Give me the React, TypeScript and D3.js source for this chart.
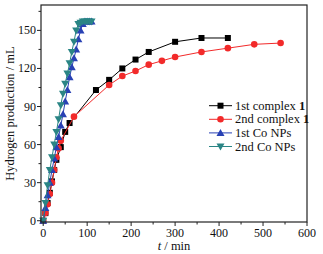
import React from "react";
import * as d3 from "d3";

const xTicks = [0, 100, 200, 300, 400, 500, 600];
const yTicks = [0, 30, 60, 90, 120, 150];

const c1Time = [0, 5, 10, 15, 20, 25, 30, 40, 50, 60, 120, 150, 180, 210, 240, 300, 360, 420];
const c1Vals = [0, 6, 14, 22, 31, 40, 48, 58, 70, 77, 103, 111, 120, 127, 133, 141, 144, 144];

const c2Time = [0, 5, 10, 15, 20, 25, 30, 35, 40, 70, 150, 180, 210, 240, 270, 300, 360, 420, 480, 540];
const c2Vals = [0, 6, 13, 21, 30, 40, 50, 57, 63, 82, 107, 114, 118, 123, 126, 129, 133, 136, 139, 140];

const co1Time = [0, 5, 10, 15, 20, 25, 30, 35, 40, 45, 50, 55, 60, 65, 70, 75, 80, 85, 90, 95, 100, 105, 110];
const co1Vals = [0, 10, 20, 30, 40, 49, 58, 66, 75, 84, 94, 103, 113, 121, 128, 135, 143, 150, 155, 157, 157, 157, 157];

const co2Time = [0, 5, 10, 15, 20, 25, 30, 35, 40, 45, 50, 55, 60, 65, 70, 75, 80, 85, 90, 95, 100, 105, 110];
const co2Vals = [0, 14, 28, 40, 50, 60, 70, 80, 91, 100, 108, 116, 124, 133, 141, 150, 155, 156, 157, 157, 157, 157, 157];

const seriesNames = ["1st complex ", "2nd complex ", "1st Co NPs", "2nd Co NPs"];
const seriesColors = ["#000000", "#f22a2a", "#2841b4", "#2a8585"];
const seriesMarkers = ["square", "circle", "up", "down"];

const W = 323, H = 254;
const L = 41, R = 307, T = 5, B = 222;

function Marker({ type, x, y, color }: { type: string; x: number; y: number; color: string }) {
  if (type === "square") return <rect x={x - 3} y={y - 3} width={6} height={6} fill={color} />;
  if (type === "circle") return <circle cx={x} cy={y} r={3.3} fill={color} />;
  const s = 4;
  if (type === "up")
    return <path d={`M${x},${y - s} L${x + s},${y + s * 0.75} L${x - s},${y + s * 0.75} Z`} fill={color} />;
  return <path d={`M${x},${y + s} L${x + s},${y - s * 0.75} L${x - s},${y - s * 0.75} Z`} fill={color} />;
}

export default function App() {
  const x = d3.scaleLinear().domain([-5, 600]).range([L, R]);
  const y = d3.scaleLinear().domain([-1, 170]).range([B, T]);
  const line = d3.line<[number, number]>().x((d) => x(d[0])).y((d) => y(d[1]));

  const series = [
    [c1Time, c1Vals],
    [c2Time, c2Vals],
    [co1Time, co1Vals],
    [co2Time, co2Vals],
  ].map(([t, v]) => t.map((tt, i) => [tt, v[i]] as [number, number]));

  const xMinor = d3.range(50, 600, 100);
  const yMinor = d3.range(15, 170, 30);
  const font = "'Liberation Serif', 'Times New Roman', serif";

  return (
    <svg width={W} height={H} style={{ position: "absolute", left: 0, top: 0 }} fontFamily={font}>
      <rect width={W} height={H} fill="#fff" />
      {series.map((pts, si) => (
        <g key={si}>
          <path d={line(pts) || ""} fill="none" stroke={seriesColors[si]} strokeWidth={1} />
          {pts.map((p, i) => (
            <Marker key={i} type={seriesMarkers[si]} x={x(p[0])} y={y(p[1])} color={seriesColors[si]} />
          ))}
        </g>
      ))}
      <rect x={L} y={T} width={R - L} height={B - T} fill="none" stroke="#222" strokeWidth={1.2} />
      {xTicks.map((t) => (
        <g key={t}>
          <line x1={x(t)} x2={x(t)} y1={B} y2={B + 4} stroke="#222" />
          <text x={x(t)} y={B + 15} textAnchor="middle" fontSize={12} fill="#111">
            {t}
          </text>
        </g>
      ))}
      {xMinor.map((t) => (
        <line key={t} x1={x(t)} x2={x(t)} y1={B} y2={B + 2.5} stroke="#222" />
      ))}
      {yTicks.map((t) => (
        <g key={t}>
          <line x1={L - 4} x2={L} y1={y(t)} y2={y(t)} stroke="#222" />
          <text x={L - 5} y={y(t) + 4} textAnchor="end" fontSize={12} fill="#111">
            {t}
          </text>
        </g>
      ))}
      {yMinor.map((t) => (
        <line key={t} x1={L - 2.5} x2={L} y1={y(t)} y2={y(t)} stroke="#222" />
      ))}
      <text
        transform={`translate(14,${(T + B) / 2}) rotate(-90)`}
        textAnchor="middle"
        fontSize={12.5}
        fill="#111"
      >
        Hydrogen production / mL
      </text>
      <text x={(L + R) / 2} y={250} textAnchor="middle" fontSize={12.5} fill="#111">
        <tspan fontStyle="italic">t</tspan> / min
      </text>
      {seriesNames.map((n, i) => {
        const ly = 105.7 + i * 13.6;
        return (
          <g key={n}>
            <line x1={209} x2={232} y1={ly} y2={ly} stroke={seriesColors[i]} strokeWidth={1} />
            <Marker type={seriesMarkers[i]} x={220.5} y={ly} color={seriesColors[i]} />
            <text x={235} y={ly + 4} fontSize={12.5} fill="#111">
              {n}
              {i < 2 ? <tspan fontWeight="bold">1</tspan> : null}
            </text>
          </g>
        );
      })}
    </svg>
  );
}
